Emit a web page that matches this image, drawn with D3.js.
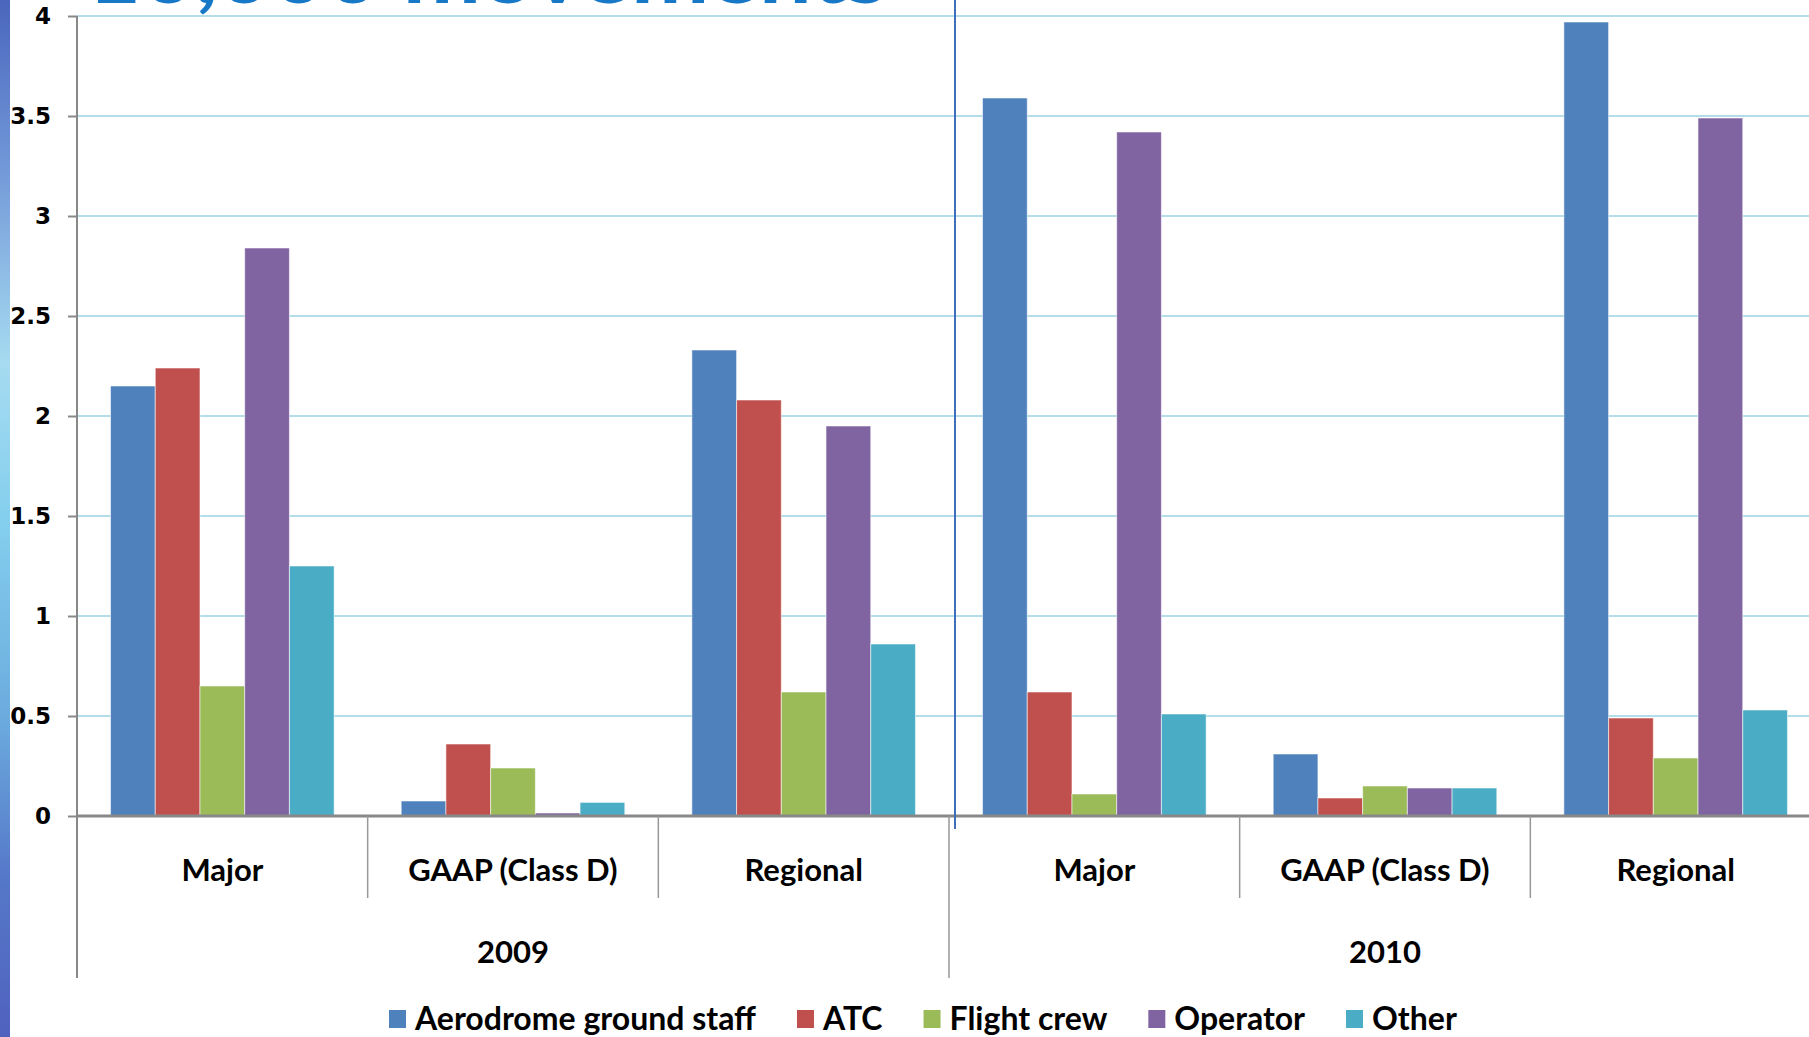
<!DOCTYPE html>
<html>
<head>
<meta charset="utf-8">
<title>Incidents per 10,000 movements</title>
<script src="https://d3js.org/d3.v7.min.js"></script>
<style>
  html, body { margin: 0; padding: 0; background: #fff; overflow: hidden; }
  svg { display: block; }
</style>
</head>
<body>
<svg id="chart" width="1809" height="1037"></svg>
<script>
// data
var years = ['2009', '2010'];
var categories = ['Major', 'GAAP (Class D)', 'Regional'];
var series = ['Aerodrome ground staff', 'ATC', 'Flight crew', 'Operator', 'Other'];
var colors = ['#4F81BD', '#C0504D', '#9BBB59', '#8064A2', '#4BACC6'];
// one row per year/category, one value per series
var values2009 = [
  [2.15, 2.24, 0.65, 2.84, 1.25],
  [0.075, 0.36, 0.24, 0.015, 0.068],
  [2.33, 2.08, 0.62, 1.95, 0.86]
];
var values2010 = [
  [3.59, 0.62, 0.11, 3.42, 0.51],
  [0.31, 0.09, 0.15, 0.14, 0.14],
  [3.97, 0.49, 0.29, 3.49, 0.53]
];
var yTicks = [0, 0.5, 1, 1.5, 2, 2.5, 3, 3.5, 4];

var rows = [];
years.forEach(function (yr, i) {
  var vals = i === 0 ? values2009 : values2010;
  categories.forEach(function (c, j) {
    rows.push({ key: yr + '|' + c, year: yr, cat: c, vals: vals[j] });
  });
});

var svg = d3.select('#chart');
var W = 1809, H = 1037;
var plotLeft = 77, plotRight = 1821, plotTop = 16, zero = 816;
var labelFont = 'Lato, sans-serif';

// left decorative strip
var defs = svg.append('defs');
var g1 = defs.append('linearGradient').attr('id', 'strip')
  .attr('x1', 0).attr('y1', 0).attr('x2', 0).attr('y2', 1);
[['0', '#4a66bd'], ['0.15', '#6f94d6'], ['0.35', '#a6dbf1'], ['0.5', '#84cfee'],
 ['0.7', '#6aa9dd'], ['0.85', '#5577c8'], ['1', '#5062bf']].forEach(function (s) {
  g1.append('stop').attr('offset', s[0]).attr('stop-color', s[1]);
});
svg.append('rect').attr('x', 0).attr('y', 0).attr('width', 10).attr('height', H)
  .attr('fill', 'url(#strip)');

// title, mostly cut off by the top edge
svg.append('text')
  .attr('x', 87).attr('y', 3)
  .attr('font-family', labelFont).attr('font-weight', 'bold')
  .attr('font-size', 80).attr('fill', '#1878c8')
  .attr('textLength', 800).attr('lengthAdjust', 'spacingAndGlyphs')
  .text('10,000 movements');

var y = d3.scaleLinear().domain([0, 4]).range([zero, plotTop]);
var x0 = d3.scaleBand().domain(rows.map(function (d) { return d.key; }))
  .range([plotLeft, plotRight]).paddingInner(0).paddingOuter(0);
var x1 = d3.scaleBand().domain(series).range([0, x0.bandwidth()])
  .paddingInner(0).paddingOuter(0.75);

// gridlines
svg.append('g').selectAll('line').data(yTicks.filter(function (t) { return t > 0; }))
  .join('line')
  .attr('x1', plotLeft).attr('x2', W)
  .attr('y1', function (d) { return y(d); }).attr('y2', function (d) { return y(d); })
  .attr('stroke', '#b3dde9').attr('stroke-width', 2);

// bars
var groups = svg.append('g').selectAll('g').data(rows).join('g')
  .attr('transform', function (d) { return 'translate(' + x0(d.key) + ',0)'; });
groups.selectAll('rect')
  .data(function (d) { return d.vals.map(function (v, i) { return { s: series[i], v: v, c: colors[i] }; }); })
  .join('rect')
  .attr('x', function (d) { return x1(d.s); })
  .attr('y', function (d) { return y(d.v); })
  .attr('width', x1.bandwidth())
  .attr('height', function (d) { return zero - y(d.v); })
  .attr('fill', function (d) { return d.c; })
  .attr('stroke', 'rgba(255,255,255,0.55)').attr('stroke-width', 1);

// y axis
var yAxis = svg.append('g').attr('transform', 'translate(' + plotLeft + ',0)')
  .call(d3.axisLeft(y).tickValues(yTicks).tickSize(9).tickPadding(17)
    .tickFormat(function (d) { return String(d); }));
yAxis.select('.domain').remove();
yAxis.selectAll('.tick line').attr('stroke', '#888').attr('stroke-width', 2);
yAxis.selectAll('.tick text')
  .attr('font-family', 'DejaVu Sans, Verdana, sans-serif').attr('font-weight', 'bold')
  .attr('font-size', 23).attr('fill', '#000');

// axis lines
svg.append('line').attr('x1', plotLeft).attr('x2', plotLeft).attr('y1', plotTop).attr('y2', 978)
  .attr('stroke', '#888').attr('stroke-width', 2);
svg.append('line').attr('x1', plotLeft).attr('x2', W).attr('y1', zero).attr('y2', zero)
  .attr('stroke', '#888').attr('stroke-width', 3);

// category separators
var step = x0.step();
d3.range(1, rows.length + 1).forEach(function (i) {
  var xx = plotLeft + i * step;
  var isYear = i % categories.length === 0;
  svg.append('line').attr('x1', xx).attr('x2', xx)
    .attr('y1', zero).attr('y2', isYear ? 978 : 898)
    .attr('stroke', '#999').attr('stroke-width', 1.5);
});

// category labels
svg.append('g').selectAll('text').data(rows).join('text')
  .attr('x', function (d) { return x0(d.key) + x0.bandwidth() / 2; })
  .attr('y', 881)
  .attr('text-anchor', 'middle')
  .attr('font-family', labelFont).attr('font-weight', 'bold')
  .attr('font-size', 31).attr('fill', '#000')
  .text(function (d) { return d.cat; });

// year labels
svg.append('g').selectAll('text').data(years).join('text')
  .attr('x', function (d) {
    var ks = rows.filter(function (r) { return r.year === d; });
    return (x0(ks[0].key) + x0(ks[ks.length - 1].key) + x0.bandwidth()) / 2;
  })
  .attr('y', 963)
  .attr('text-anchor', 'middle')
  .attr('font-family', labelFont).attr('font-weight', 'bold')
  .attr('font-size', 31).attr('fill', '#000')
  .text(function (d) { return d; });

// blue divider between years
svg.append('line').attr('x1', 955).attr('x2', 955).attr('y1', 0).attr('y2', 829)
  .attr('stroke', '#3f6fb8').attr('stroke-width', 2);

// legend
var legend = svg.append('g');
var lx = 389;
series.forEach(function (s, i) {
  legend.append('rect').attr('x', lx).attr('y', 1010).attr('width', 17).attr('height', 18)
    .attr('fill', colors[i]);
  var t = legend.append('text').attr('x', lx + 26).attr('y', 1030)
    .attr('font-family', labelFont).attr('font-weight', 'bold')
    .attr('font-size', 32).attr('fill', '#000').text(s);
  lx += 26 + t.node().getComputedTextLength() + 41;
});
</script>
</body>
</html>
